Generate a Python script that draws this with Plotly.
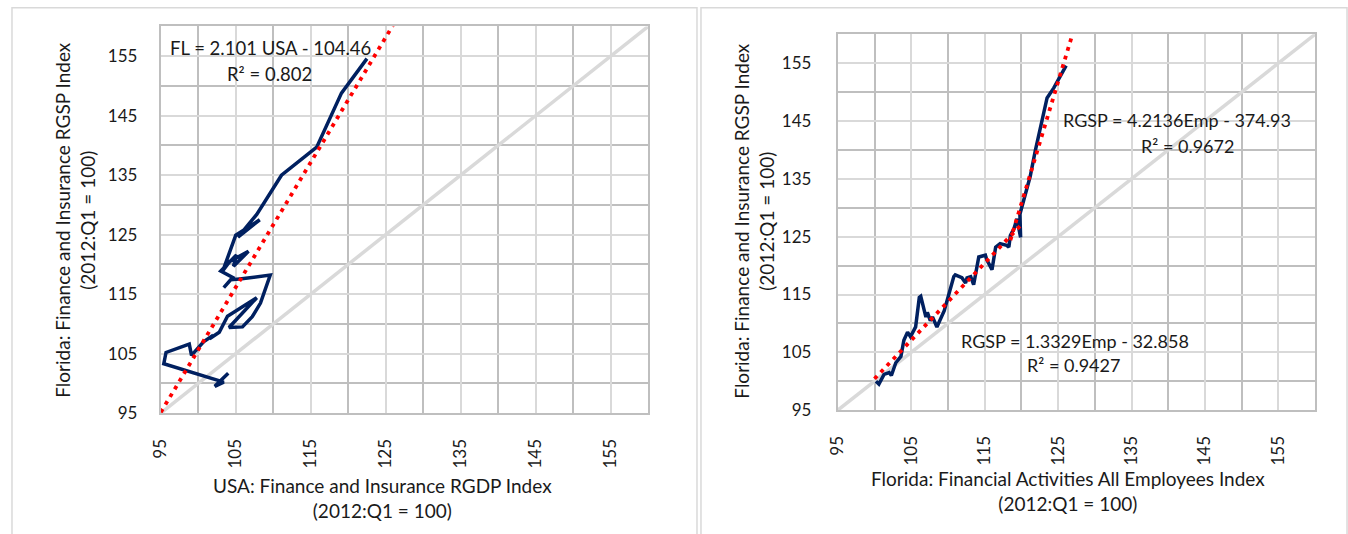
import numpy as np
import plotly.graph_objects as go

W, H = 1348, 534

# ---------------- data ----------------
usa_rgdp_index = [104.0, 102.2, 103.4, 95.4, 95.7, 98.8, 99.1, 100.7, 102.0, 101.5, 102.8, 103.9,
                  107.8, 104.1, 105.9, 107.2, 108.3, 109.6, 105.8, 104.3, 103.4, 104.6, 103.0,
                  105.1, 104.7, 106.7, 104.2, 103.3, 105.0, 108.2, 105.3, 107.8, 111.1, 115.8,
                  119.1, 122.5]
fl_rgsp_index_left = [101.7, 99.5, 100.2, 103.3, 105.2, 106.6, 104.7, 107.0, 108.1, 107.5, 108.6, 111.3,
                      114.4, 109.4, 109.5, 111.2, 113.5, 118.2, 117.6, 117.4, 116.1, 117.8, 118.9,
                      121.6, 119.7, 122.2, 120.5, 119.0, 124.9, 127.5, 124.6, 128.4, 135.0, 139.7,
                      148.8, 154.6]

fl_emp_index = [100.2, 100.6, 101.3, 102.0, 102.3, 102.9, 103.6, 103.8, 104.0, 104.5, 104.7, 104.9,
                105.6, 106.1, 106.3, 107.0, 107.2, 107.6, 107.9, 108.5, 109.5, 110.1, 110.8, 111.0,
                111.9, 112.4, 112.6, 113.1, 113.5, 114.2, 115.1, 115.3, 116.0, 116.5, 117.1, 118.0,
                118.3, 118.5, 119.0, 119.4, 119.9, 119.8, 121.2, 121.9, 123.5, 124.4, 126.1]
fl_rgsp_index_right = [100.0, 99.5, 101.2, 101.5, 101.0, 103.2, 104.3, 105.7, 107.1, 108.5, 108.0, 107.7,
                       109.4, 114.5, 114.7, 111.1, 111.9, 110.5, 111.1, 109.4, 112.2, 115.0, 118.1, 118.4,
                       117.9, 117.0, 117.9, 118.1, 116.7, 121.5, 121.8, 121.0, 119.3, 123.2, 123.8, 123.5,
                       123.2, 125.2, 126.4, 128.1, 124.9, 128.9, 135.4, 139.9, 149.0, 150.7, 154.6]

# trendline equations (as printed on the chart)
trend_left = (2.101, -104.46)
trend_left_range = [95.0, 126.0]
trend_r1 = (1.3329, -32.858)
trend_r1_range = [100.0, 119.9]
trend_r2 = (4.2136, -374.93)
trend_r2_range = [118.5, 127.2]

axis_range = [95, 160]
tick_vals = [95, 105, 115, 125, 135, 145, 155]

# ---------------- style ----------------
NAVY = "#002060"
RED = "#FF0000"
DIAG = "#D9D9D9"
FONT = "Lato"
TXT = "#1a1a1a"

fig = go.Figure()


def px_x(p):
    p = (p - 9) / 0.9933
    return max(p, 1) / W


def px_y(p):
    return 1 - p / H


def add_panel(xa, ya, xs, ys, trends):
    # 45-degree reference line
    fig.add_trace(go.Scatter(x=axis_range, y=axis_range, mode="lines",
                             line=dict(color=DIAG, width=3.5), xaxis=xa, yaxis=ya,
                             hoverinfo="skip", showlegend=False))
    fig.add_trace(go.Scatter(x=xs, y=ys, mode="lines",
                             line=dict(color=NAVY, width=3.5), xaxis=xa, yaxis=ya,
                             showlegend=False))
    for (m, b), rng in trends:
        tx = np.linspace(rng[0], rng[1], 50)
        fig.add_trace(go.Scatter(x=tx, y=m * tx + b, mode="lines",
                                 line=dict(color=RED, width=3.8, dash="3.8px,5.2px"),
                                 xaxis=xa, yaxis=ya, hoverinfo="skip", showlegend=False))


add_panel("x", "y", usa_rgdp_index, fl_rgsp_index_left, [(trend_left, trend_left_range)])
add_panel("x2", "y2", fl_emp_index, fl_rgsp_index_right,
          [(trend_r1, trend_r1_range), (trend_r2, trend_r2_range)])

common_axis = dict(
    range=axis_range, tickvals=tick_vals, ticktext=[str(v) for v in tick_vals],
    showgrid=True, gridcolor="#D9D9D9", gridwidth=2,
    minor=dict(tickvals=[100, 110, 120, 130, 140, 150, 160], showgrid=True,
               gridcolor="#BFBFBF", gridwidth=2),
    showline=True, linecolor="#BFBFBF", linewidth=2, mirror=True,
    zeroline=False, ticks="outside", tickcolor="rgba(0,0,0,0)",
    tickfont=dict(family=FONT, size=17, color=TXT),
    fixedrange=True,
)

fig.update_layout(
    width=W, height=H, margin=dict(l=0, r=0, t=0, b=0),
    paper_bgcolor="white", plot_bgcolor="white", showlegend=False,
    xaxis=dict(common_axis, domain=[px_x(159), px_x(647)], anchor="y",
               tickangle=-90, ticklen=17),
    yaxis=dict(common_axis, domain=[px_y(421), px_y(27)], anchor="x",
               ticklen=18),
    xaxis2=dict(common_axis, domain=[px_x(837), px_x(1315)], anchor="y2",
                tickangle=-90, ticklen=17),
    yaxis2=dict(common_axis, domain=[px_y(418), px_y(35)], anchor="x2",
                ticklen=21),
)

# panel borders
for x0, x1 in [(5, 696), (700, 1347)]:
    fig.add_shape(type="rect", xref="paper", yref="paper",
                  x0=px_x(x0), x1=min(px_x(x1), 0.9995), y0=px_y(560), y1=px_y(8),
                  line=dict(color="#D9D9D9", width=1.5), fillcolor="rgba(0,0,0,0)", layer="below")


def ann(text, x, y, size=19, angle=0):
    fig.add_annotation(text=text, x=px_x(x), y=px_y(y), xref="paper", yref="paper",
                       showarrow=False, textangle=angle, xanchor="center", yanchor="middle",
                       font=dict(family=FONT, size=size, color=TXT))


# axis titles
ann("Florida: Finance and Insurance RGSP Index<br>(2012:Q1 = 100)", 73, 224, angle=-90)
ann("USA: Finance and Insurance RGDP Index<br>(2012:Q1 = 100)", 381, 507)
ann("Florida: Finance and Insurance RGSP Index<br>(2012:Q1 = 100)", 753, 225, angle=-90)
ann("Florida: Financial Activities All Employees Index<br>(2012:Q1 = 100)", 1068, 500)

# trendline labels
ann("FL = 2.101 USA - 104.46", 269, 49, size=18.5)
ann("R² = 0.802", 268, 75, size=18.5)
ann("RGSP = 4.2136Emp - 374.93", 1177, 122, size=18)
ann("R² = 0.9672", 1187, 149, size=18)
ann("RGSP = 1.3329Emp - 32.858", 1075, 347, size=18)
ann("R² = 0.9427", 1073, 372, size=18)

fig.write_html(
    "out.html",
    config={"displayModeBar": False},
    post_script="document.body.style.margin='0';document.body.style.overflow='hidden';",
)
